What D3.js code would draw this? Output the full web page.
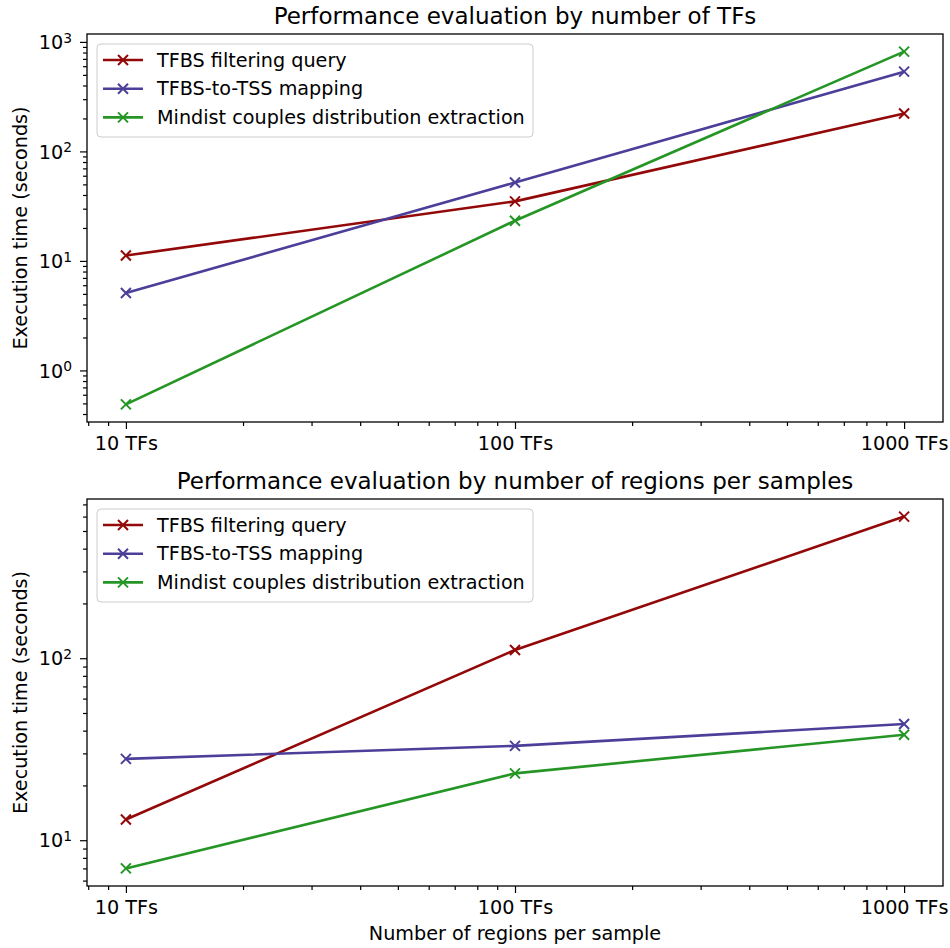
<!DOCTYPE html>
<html>
<head>
<meta charset="utf-8">
<script src="https://cdn.jsdelivr.net/npm/d3@7"></script>
<style>
body { margin: 0; background: #fff; }
text { font-family: "DejaVu Sans", sans-serif; fill: #000; }
</style>
</head>
<body>
<svg id="svg"></svg>
<script>
var width = 950, height = 948;

var categories = [10, 100, 1000];
var tickLabels = ["10 TFs", "100 TFs", "1000 TFs"];
var seriesNames = ["TFBS filtering query", "TFBS-to-TSS mapping", "Mindist couples distribution extraction"];
var colors = ["#930808", "#4b3f99", "#259625"];

// top panel: by number of TFs
var tfsFiltering = [11.2, 35, 222];
var tfsMapping = [5.1, 52, 535];
var tfsMindist = [0.49, 23.3, 815];

// bottom panel: by number of regions per sample
var regionsFiltering = [13, 111, 600];
var regionsMapping = [28, 33, 43.5];
var regionsMindist = [7, 23.3, 38];

var svg = d3.select("#svg")
	.attr("width", width)
	.attr("height", height);

var left = 87, right = 943;
var fontSize = 19.2;

function logDomain(values, pad)
{
	var lo = Math.log10(d3.min(values)), hi = Math.log10(d3.max(values));
	var r = hi - lo;
	return [Math.pow(10, lo - pad * r), Math.pow(10, hi + pad * r)];
}

var x = d3.scaleLog()
	.domain(logDomain(categories, 0.05))
	.range([left, right]);

function supLabel(sel, v)
{
	var p = Math.round(Math.log10(v));
	sel.text("10");
	sel.append("tspan")
		.attr("dy", "-0.45em")
		.attr("font-size", "0.72em")
		.text(p);
}

function plot(top, bottom, title, series, xlabel)
{
	var all = [].concat.apply([], series);
	var y = d3.scaleLog()
		.domain(logDomain(all, 0.05))
		.range([bottom, top]);

	var g = svg.append("g");

	// minor ticks
	var xMinor = x.ticks().filter(function(d) { return categories.indexOf(d) < 0; });
	g.append("g")
		.attr("transform", "translate(0," + bottom + ")")
		.call(d3.axisBottom(x).tickValues(xMinor).tickSize(4).tickFormat(""))
		.call(function(a) { a.select(".domain").remove(); });

	var yAll = y.ticks();
	var yMajor = yAll.filter(function(d) { return Math.abs(Math.log10(d) - Math.round(Math.log10(d))) < 1e-9; });
	var yMinor = yAll.filter(function(d) { return yMajor.indexOf(d) < 0; });
	g.append("g")
		.attr("transform", "translate(" + left + ",0)")
		.call(d3.axisLeft(y).tickValues(yMinor).tickSize(4).tickFormat(""))
		.call(function(a) { a.select(".domain").remove(); });

	// major ticks
	var xa = g.append("g")
		.attr("transform", "translate(0," + bottom + ")")
		.call(d3.axisBottom(x).tickValues(categories).tickSize(7).tickPadding(7)
			.tickFormat(function(d, i) { return tickLabels[i]; }));
	xa.select(".domain").remove();
	xa.selectAll("text").attr("font-size", fontSize);

	var ya = g.append("g")
		.attr("transform", "translate(" + left + ",0)")
		.call(d3.axisLeft(y).tickValues(yMajor).tickSize(7).tickPadding(8).tickFormat(""));
	ya.select(".domain").remove();
	ya.selectAll(".tick text")
		.attr("font-size", fontSize)
		.attr("dy", "0.35em")
		.each(function(d) { supLabel(d3.select(this), d); });

	g.selectAll(".tick line").attr("stroke", "#000").attr("stroke-width", 1.2);

	// series lines
	var line = d3.line()
		.x(function(d, i) { return x(categories[i]); })
		.y(function(d) { return y(d); });

	series.forEach(function(vals, k)
	{
		g.append("path")
			.attr("d", line(vals))
			.attr("fill", "none")
			.attr("stroke", colors[k])
			.attr("stroke-width", 2.6);

		g.selectAll(".m" + k)
			.data(vals)
			.enter().append("path")
			.attr("transform", function(d, i) { return "translate(" + x(categories[i]) + "," + y(d) + ")"; })
			.attr("d", "M-5,-5L5,5M-5,5L5,-5")
			.attr("stroke", colors[k])
			.attr("stroke-width", 2);
	});

	// frame
	g.append("rect")
		.attr("x", left)
		.attr("y", top)
		.attr("width", right - left)
		.attr("height", bottom - top)
		.attr("fill", "none")
		.attr("stroke", "#000")
		.attr("stroke-width", 1.3);

	// legend
	var lx = left + 10, ly = top + 10;
	var leg = g.append("g").attr("transform", "translate(" + lx + "," + ly + ")");
	leg.append("rect")
		.attr("width", 436)
		.attr("height", 93)
		.attr("rx", 4)
		.attr("fill", "#fff")
		.attr("fill-opacity", 0.8)
		.attr("stroke", "#cccccc");

	var item = leg.selectAll(".item")
		.data(seriesNames)
		.enter().append("g")
		.attr("transform", function(d, i) { return "translate(0," + (16 + i * 28.7) + ")"; });

	item.append("line")
		.attr("x1", 6).attr("x2", 46)
		.attr("stroke", function(d, i) { return colors[i]; })
		.attr("stroke-width", 2.6);
	item.append("path")
		.attr("transform", "translate(26,0)")
		.attr("d", "M-5,-5L5,5M-5,5L5,-5")
		.attr("stroke", function(d, i) { return colors[i]; })
		.attr("stroke-width", 2);
	item.append("text")
		.attr("x", 60)
		.attr("dy", "0.35em")
		.attr("font-size", fontSize)
		.text(function(d) { return d; });

	// title
	g.append("text")
		.attr("x", (left + right) / 2)
		.attr("y", top - 10)
		.attr("text-anchor", "middle")
		.attr("font-size", 23)
		.text(title);

	// y label
	g.append("text")
		.attr("transform", "translate(27," + (top + bottom) / 2 + ") rotate(-90)")
		.attr("text-anchor", "middle")
		.attr("font-size", fontSize)
		.text("Execution time (seconds)");

	if (xlabel)
	{
		g.append("text")
			.attr("x", (left + right) / 2)
			.attr("y", bottom + 54)
			.attr("text-anchor", "middle")
			.attr("font-size", fontSize)
			.text(xlabel);
	}
}

plot(34, 422, "Performance evaluation by number of TFs",
	[tfsFiltering, tfsMapping, tfsMindist], null);
plot(499, 886, "Performance evaluation by number of regions per samples",
	[regionsFiltering, regionsMapping, regionsMindist], "Number of regions per sample");
</script>
</body>
</html>
